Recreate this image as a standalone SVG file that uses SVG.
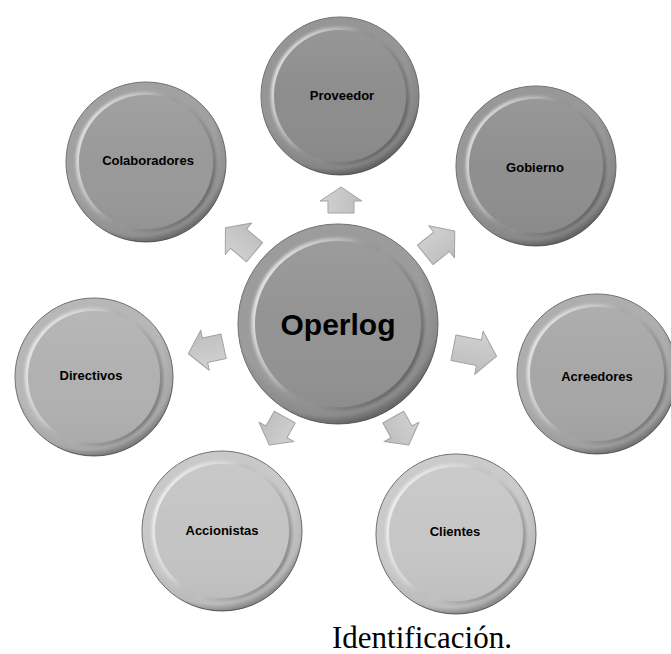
<svg xmlns="http://www.w3.org/2000/svg" width="671" height="654" viewBox="0 0 671 654">
<defs>
<style>
.outer{stroke:#6a6a6a;stroke-width:1}
.lbl{font-family:"Liberation Sans",Arial,sans-serif;font-weight:bold;font-size:13px;fill:#000;text-anchor:middle}
.big{font-family:"Liberation Sans",Arial,sans-serif;font-weight:bold;font-size:30px;fill:#000;text-anchor:middle}
.cap{font-family:"Liberation Serif","Times New Roman",serif;font-size:31px;fill:#000}
.arrow{fill:url(#arrowG);stroke:#a3a3a3;stroke-width:1;stroke-linejoin:round}
</style>
<radialGradient id="rimShade" cx="0.45" cy="0.4" r="0.6">
<stop offset="0.8" stop-color="#fff" stop-opacity="0.08"/>
<stop offset="0.93" stop-color="#000" stop-opacity="0.05"/>
<stop offset="1" stop-color="#000" stop-opacity="0.3"/>
</radialGradient>
<linearGradient id="rimHi" x1="0" y1="0.25" x2="1" y2="0.75">
<stop offset="0" stop-color="#fff" stop-opacity="0.85"/>
<stop offset="0.35" stop-color="#fff" stop-opacity="0.25"/>
<stop offset="0.55" stop-color="#000" stop-opacity="0"/>
<stop offset="1" stop-color="#000" stop-opacity="0.35"/>
</linearGradient>
<linearGradient id="discG" x1="0" y1="0" x2="0" y2="1">
<stop offset="0" stop-color="#fff" stop-opacity="0.08"/>
<stop offset="0.5" stop-color="#fff" stop-opacity="0"/>
<stop offset="1" stop-color="#000" stop-opacity="0.04"/>
</linearGradient>
<linearGradient id="arrowG" x1="0" y1="0" x2="0" y2="1">
<stop offset="0" stop-color="#d2d2d2"/>
<stop offset="1" stop-color="#bdbdbd"/>
</linearGradient>
<filter id="soft" x="-10%" y="-10%" width="120%" height="120%">
<feGaussianBlur stdDeviation="1.6"/>
</filter>
<path id="arr26" d="M-13,-13 L-1,-13 L-1,-21 L13,0 L-1,21 L-1,13 L-13,13 Z"/>
</defs>
<rect width="671" height="654" fill="#fff"/>

<g id="connectors">
<path class="arrow" transform="translate(341,200) rotate(-90)" d="M-13,-13 L-1,-13 L-1,-21 L13,0 L-1,21 L-1,13 L-13,13 Z"/>
<path class="arrow" transform="translate(440,243) rotate(-39)" d="M-19,-12.5 L2,-12.5 L2,-20.5 L19,0 L2,20.5 L2,12.5 L-19,12.5 Z"/>
<path class="arrow" transform="translate(475,352) rotate(11)" d="M-22,-13 L4,-13 L4,-22 L22,0 L4,22 L4,13 L-22,13 Z"/>
<path class="arrow" transform="translate(401,431) rotate(61)" d="M-16,-12 L1,-12 L1,-20 L16,0 L1,20 L1,12 L-16,12 Z"/>
<path class="arrow" transform="translate(277,431) rotate(119)" d="M-16,-12 L1,-12 L1,-20 L16,0 L1,20 L1,12 L-16,12 Z"/>
<path class="arrow" transform="translate(206,350) rotate(168)" d="M-18,-12.5 L1,-12.5 L1,-20.5 L18,0 L1,20.5 L1,12.5 L-18,12.5 Z"/>
<path class="arrow" transform="translate(240,240) rotate(-140)" d="M-19,-12.5 L2,-12.5 L2,-20.5 L19,0 L2,20.5 L2,12.5 L-19,12.5 Z"/>
</g>

<g id="n-operlog">
<circle class="outer" cx="338" cy="324" r="100" fill="#939393"/>
<circle cx="338" cy="324" r="100" fill="url(#rimShade)"/>
<circle cx="338" cy="324" r="84" fill="none" stroke="url(#rimHi)" stroke-width="5" filter="url(#soft)"/>
<circle cx="338" cy="324" r="83" fill="#939393"/>
<circle cx="338" cy="324" r="83" fill="url(#discG)"/>
<text class="big" x="338" y="335">Operlog</text>
</g>

<g id="n-proveedor">
<circle class="outer" cx="340" cy="96" r="79" fill="#8d8d8d"/>
<circle cx="340" cy="96" r="79" fill="url(#rimShade)"/>
<circle cx="340" cy="96" r="67" fill="none" stroke="url(#rimHi)" stroke-width="4" filter="url(#soft)"/>
<circle cx="340" cy="96" r="66" fill="#8d8d8d"/>
<circle cx="340" cy="96" r="66" fill="url(#discG)"/>
<text class="lbl" x="342" y="100">Proveedor</text>
</g>

<g id="n-gobierno">
<circle class="outer" cx="536" cy="166" r="80" fill="#8f8f8f"/>
<circle cx="536" cy="166" r="80" fill="url(#rimShade)"/>
<circle cx="536" cy="166" r="68" fill="none" stroke="url(#rimHi)" stroke-width="4" filter="url(#soft)"/>
<circle cx="536" cy="166" r="67" fill="#8f8f8f"/>
<circle cx="536" cy="166" r="67" fill="url(#discG)"/>
<text class="lbl" x="535" y="172">Gobierno</text>
</g>

<g id="n-acreedores">
<circle class="outer" cx="597" cy="374" r="80" fill="#a7a7a7"/>
<circle cx="597" cy="374" r="80" fill="url(#rimShade)"/>
<circle cx="597" cy="374" r="68" fill="none" stroke="url(#rimHi)" stroke-width="4" filter="url(#soft)"/>
<circle cx="597" cy="374" r="67" fill="#a7a7a7"/>
<circle cx="597" cy="374" r="67" fill="url(#discG)"/>
<text class="lbl" x="597" y="381">Acreedores</text>
</g>

<g id="n-clientes">
<circle class="outer" cx="456" cy="534" r="80" fill="#c6c6c6"/>
<circle cx="456" cy="534" r="80" fill="url(#rimShade)"/>
<circle cx="456" cy="534" r="68" fill="none" stroke="url(#rimHi)" stroke-width="4" filter="url(#soft)"/>
<circle cx="456" cy="534" r="67" fill="#c6c6c6"/>
<circle cx="456" cy="534" r="67" fill="url(#discG)"/>
<text class="lbl" x="455" y="536">Clientes</text>
</g>

<g id="n-accionistas">
<circle class="outer" cx="222" cy="531" r="80" fill="#c4c4c4"/>
<circle cx="222" cy="531" r="80" fill="url(#rimShade)"/>
<circle cx="222" cy="531" r="68" fill="none" stroke="url(#rimHi)" stroke-width="4" filter="url(#soft)"/>
<circle cx="222" cy="531" r="67" fill="#c4c4c4"/>
<circle cx="222" cy="531" r="67" fill="url(#discG)"/>
<text class="lbl" x="222" y="535">Accionistas</text>
</g>

<g id="n-directivos">
<circle class="outer" cx="94" cy="377" r="79" fill="#b1b1b1"/>
<circle cx="94" cy="377" r="79" fill="url(#rimShade)"/>
<circle cx="94" cy="377" r="67" fill="none" stroke="url(#rimHi)" stroke-width="4" filter="url(#soft)"/>
<circle cx="94" cy="377" r="66" fill="#b1b1b1"/>
<circle cx="94" cy="377" r="66" fill="url(#discG)"/>
<text class="lbl" x="91" y="380">Directivos</text>
</g>

<g id="n-colaboradores">
<circle class="outer" cx="146" cy="162" r="80" fill="#999999"/>
<circle cx="146" cy="162" r="80" fill="url(#rimShade)"/>
<circle cx="146" cy="162" r="68" fill="none" stroke="url(#rimHi)" stroke-width="4" filter="url(#soft)"/>
<circle cx="146" cy="162" r="67" fill="#999999"/>
<circle cx="146" cy="162" r="67" fill="url(#discG)"/>
<text class="lbl" x="148" y="165">Colaboradores</text>
</g>

<text class="cap" x="332" y="648">Identificación.</text>
</svg>
